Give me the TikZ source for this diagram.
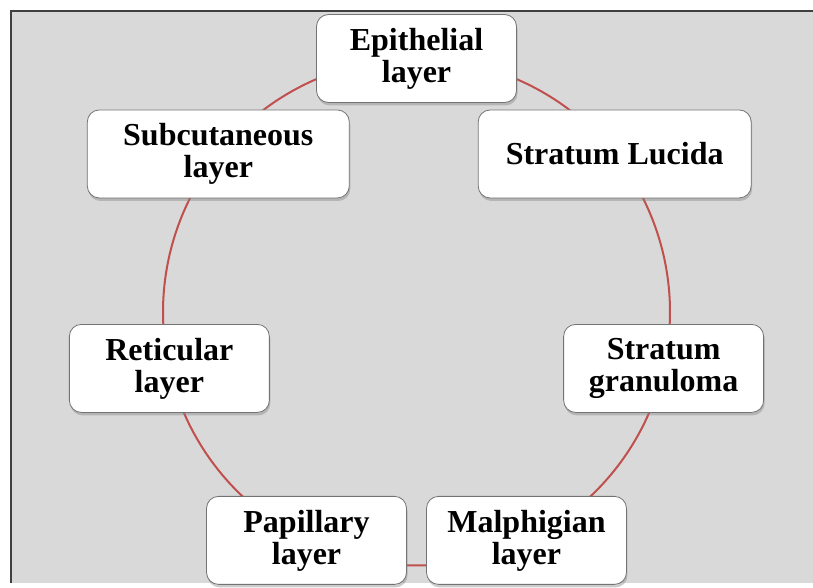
\documentclass[tikz,border=0pt]{standalone}
\usepackage{fontspec}
\setmainfont{Liberation Serif}
\usepackage{tikz}
\usetikzlibrary{shadows,backgrounds}
\definecolor{ringred}{HTML}{C0504D}
\definecolor{panelgray}{HTML}{D9D9D9}

\begin{document}
\begin{tikzpicture}[x=1pt,y=1pt,
  every node/.style={draw=black!55,fill=white,rounded corners=12pt,line width=0.8pt,
    minimum width=200pt,minimum height=88pt,align=center,
    font=\fontsize{32}{32}\selectfont\bfseries,
    drop shadow={shadow xshift=1pt,shadow yshift=-3pt,opacity=0.4}},
  ring/.style={draw=ringred,line width=2pt}]
  \useasboundingbox (0,0) rectangle (813,587);
  \coordinate (c) at (416.5,275);
  % the seven layers round the cycle
  \foreach \i/\w/\txt in {0/200/{Epithelial\\layer},1/273/{Stratum Lucida},
      2/200/{Stratum\\granuloma},3/200/{Malphigian\\layer},4/200/{Papillary\\layer},
      5/200/{Reticular\\layer},6/262/{Subcutaneous\\layer}}
    \node[minimum width=\w pt] (n\i) at ([shift={(90-\i*360/7:253.5)}]c) {\txt};
  \begin{scope}[on background layer]
    \fill[panelgray] (11,4) rectangle (813,576);
    \draw[line width=1.5pt,black!75] (11,4) -- (11,576) -- (813,576);
    \foreach \i in {0,...,6}
      \draw[ring] (n\i.center) arc[start angle=90-\i*360/7,delta angle=-360/7,radius=253.5];
  \end{scope}
\end{tikzpicture}
\end{document}
